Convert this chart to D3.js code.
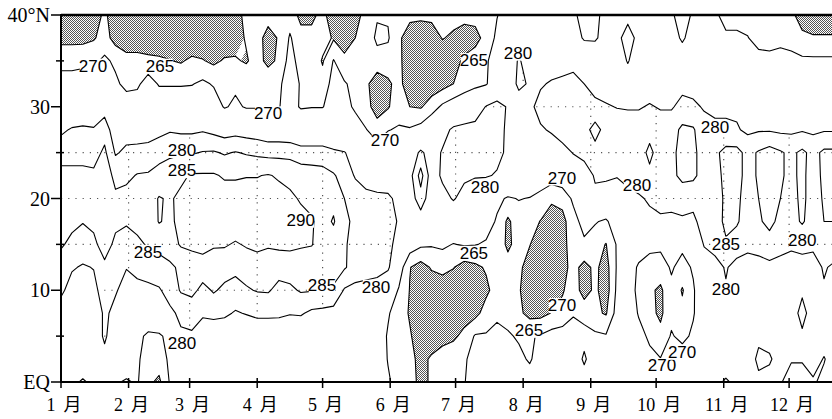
<!DOCTYPE html>
<html>
<head>
<meta charset="utf-8">
<script src="https://cdn.jsdelivr.net/npm/d3@7"></script>
<style>
  html, body { margin: 0; padding: 0; background: #fff; }
  svg { display: block; }
</style>
</head>
<body>
<svg id="chart" width="832" height="419"></svg>
<script>
// OLR (W/m2) time–latitude section: pentad columns from 1 Jan, rows every 2.5° from 40°N to the equator.
const days = d3.range(0, 360, 5);
const lats = [40, 37.5, 35, 32.5, 30, 27.5, 25, 22.5, 20, 17.5, 15, 12.5, 10, 7.5, 5, 2.5, 0];

const olr40 = [262,262,262,262.5,266,262,261,261,261,261,261,261,
  261,261,261.5,262,263,266.5,267,267,267.5,268,263.5,263.5,
  267,261,261,263,267,269.5,269.5,267,266.5,266,266.5,267,
  267,267,267,268,269.8,272,273,273,273,273,273,271,
  268,268.5,272,273,272,273,273,273,271,267,271,272,
  271,268,268,268,268,268,268,266,263,262,262,262];
const olr37_5 = [263.5,263.5,263.5,264.5,267,263,261.5,261.5,261,261,261.5,261.5,
  261,261.5,262,262,263,265.5,267,263,265.5,270.5,267,267,
  267,264.5,262,265,267,271,270.5,266,262,262,262,265.3,
  264,262,263,267,271,273,274,274,274,274.5,275,274,
  269,269,273,272,267,272,274,274,273,269,273,274,
  273,271,271,270.2,268,268,268.5,268,266,265.5,265.5,265.5];
const olr35 = [268.5,268.5,269,269,271,269,267,267,266.5,266,265.2,264.5,
  266,265.3,264,265.5,265.5,264.5,267,263.5,266,272,268,268.5,
  264.5,270.3,266.5,268,268,268,268,266.5,261,261,261,261,
  263,266,268,269.5,272,275,280.8,276.5,277,277.5,278,278.5,
  278,276,275,274,269.5,274,275,275,275,274,275.5,276,
  276,276,275.5,274.5,272,271.5,272,271.5,271,271,271,271];
const olr32_5 = [272,272,272,272,272.5,271,268.5,269,272.5,269.5,269.5,269.5,
  269.7,271,269.5,268.5,269,268.5,268.5,269,269,273,269.5,269,
  267,272,270.5,268.5,266,262,264,267,261,261,262,263,
  265,267.5,268.5,269.5,274,277,281,279.5,279.5,280.5,281,281.5,
  280,278.5,277.5,277,274,276.5,277,277,278,278.5,278,277,
  276,276,276,275,274,274,274,274,274,274,274,274];
const olr30 = [275,275,275,275.5,277.5,274,273,273,274,274,274,274,
  274,274.5,273,269.5,271,269.5,269.5,269.5,269.8,272,269.5,269.8,
  269.8,272,271,269.5,266.5,263,264.5,268,265,264.5,267.5,271,
  273,274,276.5,280.3,282,279.5,277.5,279,281.5,283,283,283,
  282,281,280.5,279.8,279.5,279.5,280.5,279.5,279.5,281.5,281,279.5,
  279,279,279,278,277,277,277,277,277,277,277,277];
const olr27_5 = [279,280.5,281,280.5,283,276.5,278,277.5,277.5,278.5,279.5,279,
  279,279.5,278.5,277.5,278,277.5,277,276,276,275.5,275,275,
  275,274,273,271.5,270.2,267,269.8,270.5,270.5,272,275,278,
  281,282,282,281.5,281,279.5,278,278.5,279.5,280.5,282,283,
  283,287,283,283,283,283,283.5,283,283,286,285.5,282,
  281,281,280.5,279,279.5,279.5,279,279,279.5,279,279.5,279.5];
const olr25 = [283,283,283,283,286,279.5,281,281.5,282,283,284,284.5,
  284.5,285.3,285.5,284.5,285.3,284.5,284,283.5,283.5,283.5,282,282,
  282,281,280.3,277.5,275,273,273,274,276.5,281,277.5,280.5,
  282.5,283,282.5,282.5,281.5,279,277.5,277,277,277.5,278.5,280.2,
  281.5,283,282.5,283,283,283,286,283,283.5,287,286,283,
  284,286.5,286.5,283.5,285.5,287,285.5,284,286,283.5,286,286];
const olr22_5 = [286.5,286.5,286.5,286,288,283.5,284,285.3,285.5,287,288,289,
  290.5,290.5,290.5,289.5,289.5,289.8,289.8,290.3,289.5,288.5,288,287.5,
  287,285.5,283,279.5,277,276,276.5,276,278,287,277,281,
  282,281,280.5,280.5,279.5,276,275,274,273,272.5,274,277,
  277.5,280.5,280.5,280.2,281,282,284,283,283.5,286.5,286,283,
  283,286.5,286.5,283.5,285.5,287.5,285.5,284,286,283,286,286];
const olr20 = [287.5,287.5,288,287.5,289,286,286.5,287,288,290.3,289.5,291,
  292,292,292,292,292,292,292,292,291.5,291,289.5,288.5,
  288,288.5,285,283,282,281.5,281,278.5,277,283,276.5,278,
  280.5,278,276,274,271,269.5,270.2,269.8,268.5,266,266.5,271,
  276,279,278.5,278,279,279.5,280.5,281,281.5,281.5,281.5,282,
  282.5,286,286,283,285,287,285,283.5,286,283,285.5,285.5];
const olr17_5 = [287,286,285.2,286,288,286,285.5,286.5,287,290.3,289,291.5,
  292.5,292.5,292.5,292,293,292.5,292.5,292.5,292,292,291.5,290.5,
  288,290.5,286,284,283,282.5,282,279.5,276.5,277,276,275.5,
  275,273.5,273,272,269.5,264,268,267,264.8,262,263.5,268,
  272,270.5,269,274,277,278,279,279.5,279,279.5,279,282,
  283,286,285.5,283,284.5,286,284,283.5,285.5,283,285,285];
const olr15 = [285.5,284,283,284,287,284,283,284,285.5,286.5,288,290.5,
  291,291.5,290.5,290.5,289.5,290.5,291,290.5,291,291,290.5,290.2,
  288,287.5,285.5,283.5,283,282,281.5,278,273,271,270.5,271,
  269.8,270.5,270.2,269.5,268,264,267,265.2,262,261,263,268,
  269,267,264.8,270.5,274,272,271,271,272,271,273,280.5,
  282,284.5,283,281.5,282,283.5,282,281,281.5,281,283,283];
const olr12_5 = [283,280.5,279.5,280.2,284,281,280.2,281.5,282,283,284,286,
  287.5,288,287.5,287,286,287,288,287.5,287,287.5,287.5,287.5,
  287,286.5,285.5,283,282.5,282,281,273,265.2,263,265.5,266.5,
  265.2,263,264,265.5,267.5,267,266,263,261,261.5,263.5,266.5,
  263.5,266,263,270.5,272,269.5,268.5,268,270.5,268.5,270.5,276,
  278,280.5,278,277.5,278,278.5,278,277.5,278,278,280.5,279];
const olr10 = [281,278,277.5,278.5,282.5,280.5,278,278.5,279,279.5,282,285.5,
  286.5,283.5,285.5,284,283.5,284.5,285.3,285.5,283.5,284,285.5,285.3,
  285.3,284.5,279.5,278.5,278,277.5,274,269.5,264.8,262,262,262,
  262,262,262,264,267,268.5,265.5,262,261,262,264.5,267.5,
  263,266,262.5,271,273,268.5,266,264,269,264.5,269.5,273.5,
  276,279.5,276.5,276,276,276,276,275.5,272,276,279.5,277];
const olr7_5 = [277.5,276,276,276,281,278.5,276,276,276.5,277,279,281,
  281.5,281,281.5,281,279.5,280.3,281,281,281,280.3,280.5,279,
  278.5,278,277,276,275,274,270.5,267.5,264.5,262,261.5,262,
  262,262.5,263.5,267,269,268.5,266,263.5,263.5,265.2,266.5,269.5,
  268,266,264.5,272,274,269.5,266.5,264,268.5,266.5,269.5,274,
  275,275.5,275.5,275.5,275.5,275.5,275.5,276,266,276,277,276];
const olr5 = [275,275,275,276,281,276,275,272,268.5,269,272,279.3,
  279.5,276,276,276,275.5,275.5,276.5,276.5,276,276,276,275.5,
  275,275,274.5,274,273.5,273,269.5,267.5,265.5,262.5,263,263.5,
  264,266.5,270.5,270.5,271.5,270.5,269.5,269.5,270.5,272,272.5,272.5,
  272,271,270.5,274,275,272,269,266.5,270.5,268.5,271,275,
  276,276,276,276,272,273,275,275.5,272,275,274,275];
const olr2_5 = [274,274,273,274,278,274,273,271,267,267.5,271,274,
  274,274,274,274,274,274,274,274,274,274,274,274,
  274,274,273.5,273.5,273,272.5,269.8,268.5,266,264,265.5,267,
  268.5,269.5,271.5,273,273,273,271,269.5,272,274,274,274,
  269,274,275,275,275,273.5,271.5,270.2,272,273,275,275,
  275,275,275,275,268,269,273.5,270.5,270.5,273.5,269.5,274];
const olr0 = [272,271,269.5,271,273,270.5,269.5,270.5,266,264,270.5,272,
  272,272,272,272,272,272,272,272,272,272,272,272,
  272,272,272,272,272,271.5,270.5,268.5,266.5,264,265.5,267,
  268,269.8,272,273,273,273,272.5,272,273,273,273,273,
  273,273,273,273,273,273,273,273,273,273,273,273,
  272,269,272,273,272,273,270.5,267.5,267.5,269,272,273];

const olrRows = [olr40, olr37_5, olr35, olr32_5, olr30, olr27_5, olr25, olr22_5, olr20,
  olr17_5, olr15, olr12_5, olr10, olr7_5, olr5, olr2_5, olr0];

// Isolines, stipple (below) and dotted-grid (above) thresholds
const levels = [265, 270, 280, 285, 290];
const stippleBelow = 265;
const dottedAbove = 280;

// Axis ticks
const monthStarts = [0, 31, 59, 90, 120, 151, 181, 212, 243, 273, 304, 334];
const monthNames = ["1 月", "2 月", "3 月", "4 月", "5 月", "6 月", "7 月", "8 月", "9 月", "10 月", "11 月", "12 月"];
const latMajor = [0, 10, 20, 30, 40];
const latMajorText = ["EQ", "10", "20", "30", "40°N"];
const latMinor = [5, 15, 25, 35];
const gridLats = [5, 10, 15, 20, 25, 30, 35];

// Isoline labels: [value, day, latitude]
const isoLabels = [
  [270, 14.7, 34.5], [265, 45.4, 34.5], [270, 95, 29.3], [270, 148.6, 26.4],
  [265, 189.4, 35.1], [280, 209.6, 35.9], [280, 55.5, 25.3], [285, 55.5, 23.1],
  [280, 194.5, 21.3], [270, 229.8, 22.3], [280, 264.2, 21.5], [280, 300, 27.8],
  [290, 110, 17.7], [285, 39.9, 14.2], [285, 119.7, 10.6], [280, 144.5, 10.4],
  [280, 55.5, 4.25], [265, 189.4, 14.1], [265, 214.7, 5.7], [270, 229.8, 8.4],
  [285, 305, 15.1], [280, 305, 10.2], [280, 340, 15.5], [270, 275.7, 1.85],
  [270, 284.9, 3.3]
];

const svg = d3.select("#chart");
svg.append("rect").attr("width", 832).attr("height", 419).attr("fill", "#fff");

const plotLeft = 61, plotTop = 15, plotBottom = 382, plotRight = 832;
const x = d3.scaleLinear().domain([0, 365]).range([plotLeft, plotLeft + 365 * 2.18]);
const y = d3.scaleLinear().domain([0, 40]).range([plotBottom, plotTop]);

const nx = days.length, ny = lats.length;
const values = olrRows.flat();
const gxToDay = d3.scaleLinear().domain([0.5, nx - 0.5]).range([days[0], days[nx - 1]]);
const gyToLat = d3.scaleLinear().domain([0.5, ny - 0.5]).range([lats[0], lats[ny - 1]]);
const toScreen = d3.geoTransform({
  point(gx, gy) { this.stream.point(x(gxToDay(gx)), y(gyToLat(gy))); }
});
const path = d3.geoPath(toScreen);

const contourGen = d3.contours().size([nx, ny]);
const isolines = levels.map(v => contourGen.contour(values, v));
const cold = contourGen.contour(values.map(v => -v), -stippleBelow);
const warm = contourGen.contour(values, dottedAbove);

const defs = svg.append("defs");
defs.append("clipPath").attr("id", "plotClip").append("rect")
  .attr("x", x(days[0])).attr("y", y(lats[0]))
  .attr("width", x(days[nx - 1]) - x(days[0]))
  .attr("height", y(lats[ny - 1]) - y(lats[0]));
defs.append("clipPath").attr("id", "warmClip").append("path")
  .attr("d", path(warm)).attr("clip-rule", "evenodd");
const pat = defs.append("pattern").attr("id", "stipple")
  .attr("width", 2).attr("height", 2).attr("patternUnits", "userSpaceOnUse");
pat.append("rect").attr("width", 2).attr("height", 2).attr("fill", "#fff");
pat.append("rect").attr("width", 1).attr("height", 1).attr("fill", "#555");
pat.append("rect").attr("x", 1).attr("y", 1).attr("width", 1).attr("height", 1).attr("fill", "#555");

const plotG = svg.append("g").attr("clip-path", "url(#plotClip)");

// low-OLR stipple
plotG.append("path").attr("d", path(cold))
  .attr("fill", "url(#stipple)").attr("fill-rule", "evenodd");

// dotted grid inside the high-OLR area
const dots = plotG.append("g").attr("clip-path", "url(#warmClip)")
  .attr("stroke", "#555").attr("stroke-width", 1.2).attr("stroke-dasharray", "1.2 6");
dots.selectAll("line.h").data(gridLats).join("line").attr("class", "h")
  .attr("x1", plotLeft).attr("x2", plotRight).attr("y1", d => y(d)).attr("y2", d => y(d));
dots.selectAll("line.v").data(monthStarts.slice(1)).join("line").attr("class", "v")
  .attr("x1", d => x(d)).attr("x2", d => x(d)).attr("y1", plotTop).attr("y2", plotBottom);

// isolines
plotG.selectAll("path.iso").data(isolines).join("path").attr("class", "iso")
  .attr("d", path).attr("fill", "none").attr("stroke", "#000")
  .attr("stroke-width", 1.1).attr("stroke-linejoin", "round");

// isoline labels
const labG = svg.append("g").attr("font-family", "'Liberation Sans', Arial, sans-serif")
  .attr("font-size", 17).attr("fill", "#000");
isoLabels.forEach(([v, d, la]) => {
  const g = labG.append("g").attr("transform", `translate(${x(d)},${y(la)})`);
  const t = g.append("text").attr("text-anchor", "middle").attr("dy", "0.36em").text(v);
  const bb = t.node().getBBox();
  g.insert("rect", "text").attr("x", bb.x + 1).attr("y", bb.y + 2)
    .attr("width", bb.width - 2).attr("height", bb.height - 4).attr("fill", "#fff");
});

// frame and axes
const axG = svg.append("g").attr("stroke", "#000").attr("fill", "none");
axG.append("line").attr("x1", plotLeft).attr("x2", plotRight).attr("y1", plotTop).attr("y2", plotTop).attr("stroke-width", 2.5);
axG.append("line").attr("x1", plotLeft).attr("x2", plotLeft).attr("y1", plotTop - 1).attr("y2", plotBottom + 1).attr("stroke-width", 2);
axG.append("line").attr("x1", plotLeft).attr("x2", plotRight).attr("y1", plotBottom).attr("y2", plotBottom).attr("stroke-width", 2);
axG.selectAll("line.maj").data(latMajor).join("line").attr("class", "maj")
  .attr("x1", plotLeft - 10).attr("x2", plotLeft).attr("y1", d => y(d)).attr("y2", d => y(d)).attr("stroke-width", 1.5);
axG.selectAll("line.min").data(latMinor).join("line").attr("class", "min")
  .attr("x1", plotLeft - 5).attr("x2", plotLeft + 3).attr("y1", d => y(d)).attr("y2", d => y(d)).attr("stroke-width", 1.5);
axG.selectAll("line.mon").data(monthStarts).join("line").attr("class", "mon")
  .attr("x1", d => x(d)).attr("x2", d => x(d)).attr("y1", plotBottom - 4).attr("y2", plotBottom + 6).attr("stroke-width", 1.5);

svg.append("g").attr("font-family", "'Liberation Serif', 'Times New Roman', serif")
  .attr("font-size", 20).attr("text-anchor", "end")
  .selectAll("text").data(latMajor).join("text")
  .attr("x", plotLeft - 11).attr("y", d => y(d) + 7)
  .text((d, i) => latMajorText[i]);

// month labels: numeral and 月 with a visible gap
const monG = svg.append("g").attr("font-size", 18).attr("text-anchor", "middle");
monG.selectAll("text").data(monthStarts).join("text")
  .attr("x", d => x(d) + 3).attr("y", 411)
  .each(function (d, i) {
    const [num, word] = monthNames[i].split(" ");
    const t = d3.select(this);
    t.append("tspan").attr("font-family", "'Liberation Serif', serif").text(num);
    t.append("tspan").attr("dx", 8).attr("font-family", "'Noto Sans CJK SC', sans-serif").text(word);
  });
</script>
</body>
</html>
